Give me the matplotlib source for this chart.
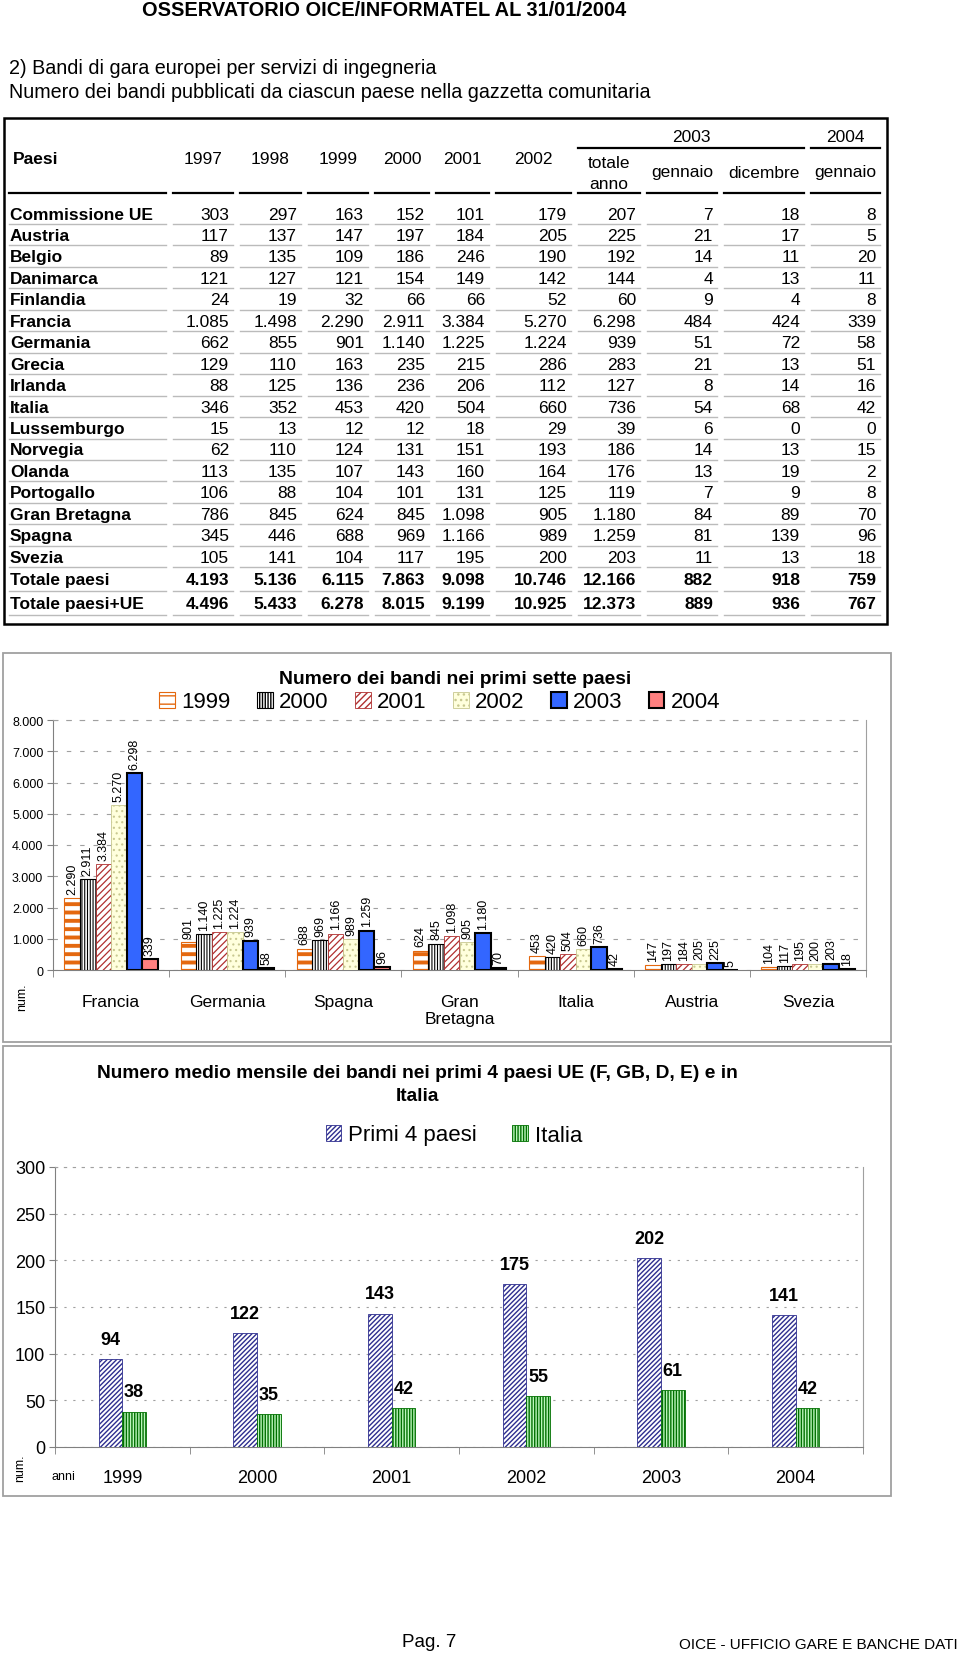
import numpy as np
import matplotlib
matplotlib.use("Agg")
import matplotlib.pyplot as plt
from matplotlib.patches import Rectangle, Patch
from matplotlib.lines import Line2D
from matplotlib.ticker import FuncFormatter

plt.rcParams['font.family'] = ['Liberation Sans', 'DejaVu Sans']
plt.rcParams['hatch.linewidth'] = 1.0

# ---- dati della tabella (bandi per paese) ----
paesi = ['Commissione UE', 'Austria', 'Belgio', 'Danimarca', 'Finlandia', 'Francia',
         'Germania', 'Grecia', 'Irlanda', 'Italia', 'Lussemburgo', 'Norvegia', 'Olanda',
         'Portogallo', 'Gran Bretagna', 'Spagna', 'Svezia', 'Totale paesi', 'Totale paesi+UE']
b1997 = [303, 117, 89, 121, 24, 1085, 662, 129, 88, 346, 15, 62, 113, 106, 786, 345, 105, 4193, 4496]
b1998 = [297, 137, 135, 127, 19, 1498, 855, 110, 125, 352, 13, 110, 135, 88, 845, 446, 141, 5136, 5433]
b1999 = [163, 147, 109, 121, 32, 2290, 901, 163, 136, 453, 12, 124, 107, 104, 624, 688, 104, 6115, 6278]
b2000 = [152, 197, 186, 154, 66, 2911, 1140, 235, 236, 420, 12, 131, 143, 101, 845, 969, 117, 7863, 8015]
b2001 = [101, 184, 246, 149, 66, 3384, 1225, 215, 206, 504, 18, 151, 160, 131, 1098, 1166, 195, 9098, 9199]
b2002 = [179, 205, 190, 142, 52, 5270, 1224, 286, 112, 660, 29, 193, 164, 125, 905, 989, 200, 10746, 10925]
b2003_tot = [207, 225, 192, 144, 60, 6298, 939, 283, 127, 736, 39, 186, 176, 119, 1180, 1259, 203, 12166, 12373]
b2003_gen = [7, 21, 14, 4, 9, 484, 51, 21, 8, 54, 6, 14, 13, 7, 84, 81, 11, 882, 889]
b2003_dic = [18, 17, 11, 13, 4, 424, 72, 13, 14, 68, 0, 13, 19, 9, 89, 139, 13, 918, 936]
b2004_gen = [8, 5, 20, 11, 8, 339, 58, 51, 16, 42, 0, 15, 2, 8, 70, 96, 18, 759, 767]
colonne = [b1997, b1998, b1999, b2000, b2001, b2002, b2003_tot, b2003_gen, b2003_dic, b2004_gen]

# ---- grafico 1: primi sette paesi ----
paesi_grafico = ['Francia', 'Germania', 'Spagna', 'Gran Bretagna', 'Italia', 'Austria', 'Svezia']
etichette_paesi = ['Francia', 'Germania', 'Spagna', 'Gran\nBretagna', 'Italia', 'Austria', 'Svezia']
serie_anni = ['1999', '2000', '2001', '2002', '2003', '2004']
serie_colonne = [b1999, b2000, b2001, b2002, b2003_tot, b2004_gen]

# ---- grafico 2: media mensile ----
anni = ['1999', '2000', '2001', '2002', '2003', '2004']
primi4 = [94, 122, 143, 175, 202, 141]
italia_media = [38, 35, 42, 55, 61, 42]

W, H = 960, 1656


def fx(x):
    return x / W


def fy(y):
    return 1 - y / H


def fmt(v):
    return f"{v:,}".replace(",", ".")


def hline(fig, x0, x1, y, **kw):
    fig.add_artist(Line2D([fx(x0), fx(x1)], [fy(y), fy(y)], transform=fig.transFigure, **kw))


def box(fig, x0, y0, x1, y1, **kw):
    fig.add_artist(Rectangle((fx(x0), fy(y1)), fx(x1) - fx(x0), fy(y0) - fy(y1),
                             transform=fig.transFigure, fill=False, **kw))


def hatch_lw(patch, lw):
    if hasattr(patch, 'set_hatch_linewidth'):
        patch.set_hatch_linewidth(lw)


fig = plt.figure(figsize=(9.6, 16.56), dpi=100)

# intestazione
fig.text(fx(384), fy(11), "OSSERVATORIO OICE/INFORMATEL AL 31/01/2004", ha='center', va='center',
         fontsize=14.4, fontweight='bold')
fig.text(fx(9), fy(68), "2) Bandi di gara europei per servizi di ingegneria", va='center', fontsize=14.2)
fig.text(fx(9), fy(92), "Numero dei bandi pubblicati da ciascun paese nella gazzetta comunitaria",
         va='center', fontsize=14.2)

# ---- tabella ----
box(fig, 4, 119, 887, 625, color='black', lw=1.8)
seg = [(9, 166), (173, 233), (240, 301), (308, 368), (375, 429), (436, 489),
       (496, 571), (578, 640), (647, 717), (724, 804), (811, 880)]
fs = 12.5
fig.text(fx(13), fy(160), "Paesi", va='center', fontsize=fs, fontweight='bold')
intest = ['1997', '1998', '1999', '2000', '2001', '2002']
for i, t in enumerate(intest):
    a, b = seg[i + 1]
    fig.text(fx((a + b) / 2), fy(160), t, ha='center', va='center', fontsize=fs)
a, b = seg[7]
fig.text(fx((a + b) / 2), fy(163), "totale", ha='center', va='center', fontsize=fs)
fig.text(fx((a + b) / 2), fy(185), "anno", ha='center', va='center', fontsize=fs)
for i, t in zip([8, 9, 10], ['gennaio', 'dicembre', 'gennaio']):
    a, b = seg[i]
    fig.text(fx((a + b) / 2), fy(173), t, ha='center', va='center', fontsize=fs)
fig.text(fx((578 + 804) / 2), fy(137), "2003", ha='center', va='center', fontsize=fs)
fig.text(fx((811 + 880) / 2), fy(137), "2004", ha='center', va='center', fontsize=fs)
hline(fig, 578, 804, 149, color='black', lw=1.6)
hline(fig, 811, 880, 149, color='black', lw=1.6)
for a, b in seg:
    hline(fig, a, b, 194, color='black', lw=1.6)

righe_y = [215 + i * 21.45 for i in range(17)] + [580.7, 605]
for r, nome in enumerate(paesi):
    y = righe_y[r]
    peso = 'bold' if r >= 17 else 'normal'
    fig.text(fx(10), fy(y), nome, va='center', fontsize=fs, fontweight='bold')
    for c, col in enumerate(colonne):
        a, b = seg[c + 1]
        fig.text(fx(b - 4), fy(y), fmt(col[r]), ha='right', va='center', fontsize=fs, fontweight=peso)
    off = 11 if r >= 17 else 10
    for a, b in seg:
        hline(fig, a, b, y + off, color='#BBBBBB', lw=1)

# ---- grafico 1 ----
box(fig, 3, 654, 891, 1043, color='#A0A0A0', lw=1.3)
ax1 = fig.add_axes([fx(53), fy(971), (866 - 53) / W, (971 - 721) / H])
x = np.arange(len(paesi_grafico))
bw = 0.134
stili = [
    dict(facecolor='white', edgecolor='#E4680F', hatch='--', lw=0.8, hlw=2.8),
    dict(facecolor='white', edgecolor='black', hatch='||||||', lw=0.8, hlw=0.8),
    dict(facecolor='white', edgecolor='#B03030', hatch='/////', lw=0.6, hlw=0.9),
    dict(facecolor='#FFFFDD', edgecolor='#C8C890', hatch='...', lw=0.6, hlw=0.8),
    dict(facecolor='#3366FF', edgecolor='black', hatch=None, lw=1.5, hlw=1.0),
    dict(facecolor='#FF8080', edgecolor='black', hatch=None, lw=1.5, hlw=1.0),
]
handles = []
for k, (anno, col) in enumerate(zip(serie_anni, serie_colonne)):
    vals = [col[paesi.index(p)] for p in paesi_grafico]
    st = stili[k]
    pos = x + (k - 2.5) * bw
    bars = ax1.bar(pos, vals, width=bw, facecolor=st['facecolor'], edgecolor=st['edgecolor'],
                   hatch=st['hatch'], linewidth=st['lw'], zorder=3)
    for p in bars:
        hatch_lw(p, st['hlw'])
    for xp, v in zip(pos, vals):
        ax1.annotate(fmt(v), (xp, v), xytext=(0, 3), textcoords='offset points', rotation=90,
                     ha='center', va='bottom', fontsize=9, zorder=4)
    h = Patch(facecolor=st['facecolor'], edgecolor=st['edgecolor'], hatch=st['hatch'],
              linewidth=st['lw'], label=anno)
    hatch_lw(h, st['hlw'])
    handles.append(h)

ax1.set_xlim(-0.5, len(paesi_grafico) - 0.5)
ax1.set_ylim(0, 8000)
ax1.set_yticks(np.arange(0, 8001, 1000))
ax1.yaxis.set_major_formatter(FuncFormatter(lambda v, p: fmt(int(v))))
ax1.yaxis.grid(True, color='#A0A0A0', lw=0.8, linestyle=(0, (4, 8)), zorder=0)
ax1.set_xticks(x)
ax1.set_xticklabels(etichette_paesi, fontsize=12.5, va='top')
ax1.set_xticks(np.arange(-0.5, len(paesi_grafico), 1), minor=True)
ax1.tick_params(axis='x', which='major', length=0, pad=17)
ax1.tick_params(axis='x', which='minor', length=5, color='#808080')
ax1.tick_params(axis='y', labelsize=9, length=4, color='#808080', pad=3)
for s in ['left', 'bottom']:
    ax1.spines[s].set_color('#808080')
ax1.spines['right'].set_color('#A0A0A0')
ax1.spines['top'].set_color('#A0A0A0')
ax1.spines['top'].set_linestyle((0, (4, 8)))
ax1.spines['top'].set_linewidth(0.8)
fig.text(fx(455), fy(680), "Numero dei bandi nei primi sette paesi", ha='center', va='center',
         fontsize=13.9, fontweight='bold')
fig.legend(handles=handles, loc='center', bbox_to_anchor=(fx(440), fy(703)), ncol=6,
           fontsize=16, frameon=False, handlelength=0.7, handleheight=0.7, handletextpad=0.3,
           columnspacing=1.18, borderpad=0)
fig.text(fx(22), fy(997), "num.", rotation=90, ha='center', va='center', fontsize=9)

# ---- grafico 2 ----
box(fig, 3, 1047, 891, 1497, color='#A0A0A0', lw=1.3)
ax2 = fig.add_axes([fx(55), fy(1448), (863 - 55) / W, (1448 - 1168) / H])
x2 = np.arange(len(anni))
bw2 = 0.175
b_p = ax2.bar(x2 - bw2 / 2, primi4, width=bw2, facecolor='white', edgecolor='#2E2E8F',
              hatch='///////', linewidth=0.6, zorder=3)
b_i = ax2.bar(x2 + bw2 / 2, italia_media, width=bw2, facecolor='#BDF5BD', edgecolor='#007000',
              hatch='||||||', linewidth=0.6, zorder=3)
for p in list(b_p) + list(b_i):
    hatch_lw(p, 1.0)
for xp, v in zip(x2 - bw2 / 2, primi4):
    ax2.annotate(str(v), (xp, v), xytext=(0, 8), textcoords='offset points', ha='center',
                 va='bottom', fontsize=13, fontweight='bold')
for xp, v in zip(x2 + bw2 / 2, italia_media):
    ax2.annotate(str(v), (xp, v), xytext=(0, 8), textcoords='offset points', ha='center',
                 va='bottom', fontsize=13, fontweight='bold')
ax2.set_xlim(-0.5, len(anni) - 0.5)
ax2.set_ylim(0, 300)
ax2.set_yticks(np.arange(0, 301, 50))
ax2.yaxis.grid(True, color='#A0A0A0', lw=0.8, linestyle=(0, (2, 6)), zorder=0)
ax2.set_xticks(x2)
ax2.set_xticklabels(anni, fontsize=13)
ax2.set_xticks(np.arange(-0.5, len(anni), 1), minor=True)
ax2.tick_params(axis='x', which='major', length=0, pad=16)
ax2.tick_params(axis='x', which='minor', length=5, color='#808080')
ax2.tick_params(axis='y', labelsize=13, length=4, color='#808080', pad=3)
for s in ['left', 'bottom']:
    ax2.spines[s].set_color('#808080')
ax2.spines['right'].set_color('#A0A0A0')
ax2.spines['top'].set_color('#A0A0A0')
ax2.spines['top'].set_linestyle((0, (2, 6)))
ax2.spines['top'].set_linewidth(0.8)
fig.text(fx(417), fy(1085), "Numero medio mensile dei bandi nei primi 4 paesi UE (F, GB, D, E) e in\nItalia",
         ha='center', va='center', fontsize=13.8, fontweight='bold', linespacing=1.4)
h2 = [Patch(facecolor='white', edgecolor='#2E2E8F', hatch='///////', linewidth=0.6, label='Primi 4 paesi'),
      Patch(facecolor='#BDF5BD', edgecolor='#007000', hatch='||||||', linewidth=0.6, label='Italia')]
fig.legend(handles=h2, loc='center', bbox_to_anchor=(fx(454), fy(1136)), ncol=2, fontsize=16,
           frameon=False, handlelength=0.7, handleheight=0.7, handletextpad=0.3,
           columnspacing=1.6, borderpad=0)
fig.text(fx(20), fy(1468), "num.", rotation=90, ha='center', va='center', fontsize=9)
fig.text(fx(63), fy(1477), "anni", ha='center', va='center', fontsize=9)

# piè di pagina
fig.text(fx(429), fy(1643), "Pag. 7", ha='center', va='center', fontsize=13.5)
fig.text(fx(958), fy(1645), "OICE - UFFICIO GARE E BANCHE DATI", ha='right', va='center', fontsize=11)

fig.savefig("out.png", dpi=100)
